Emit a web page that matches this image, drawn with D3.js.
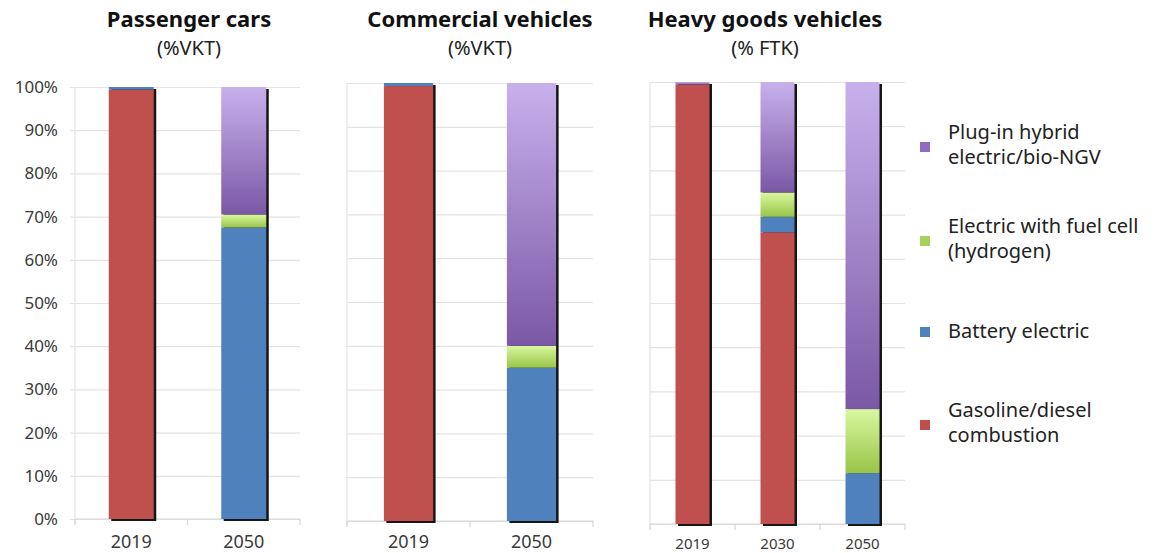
<!DOCTYPE html>
<html>
<head>
<meta charset="utf-8">
<script src="https://cdn.jsdelivr.net/npm/d3@7"></script>
<style>
  body { margin: 0; background: #fff; }
  text { font-family: "Noto Sans", "Open Sans", sans-serif; }
</style>
</head>
<body>
<div id="chart"></div>
<script>
// chart data
const panelTitles = ["Passenger cars", "Commercial vehicles", "Heavy goods vehicles"];
const panelUnits = ["(%VKT)", "(%VKT)", "(% FTK)"];
const panelYears = [["2019", "2050"], ["2019", "2050"], ["2019", "2030", "2050"]];
const seriesNames = ["Gasoline/diesel combustion", "Battery electric", "Electric with fuel cell (hydrogen)", "Plug-in hybrid electric/bio-NGV"];
// shares in % per panel, per year
const gasoline = [[99.4, 0], [99.3, 0], [99.4, 66, 0]];
const battery = [[0.6, 67.5], [0.7, 35], [0, 3.5, 11.5]];
const hydrogen = [[0, 3], [0, 5], [0, 5.5, 14.5]];
const pluginHybrid = [[0, 29.5], [0, 60], [0.6, 25, 74]];
const yTicks = [0, 10, 20, 30, 40, 50, 60, 70, 80, 90, 100];

const svgwidth = 1155;
const svgheight = 553;

var svg = d3.select("#chart")
  .append("svg")
  .attr("width", svgwidth)
  .attr("height", svgheight);

// gradients for the purple and green segments
var defs = svg.append("defs");
function addGradient(id, top, bottom) {
  var g = defs.append("linearGradient").attr("id", id)
    .attr("x1", 0).attr("y1", 0).attr("x2", 0).attr("y2", 1);
  g.append("stop").attr("offset", "0%").attr("stop-color", top);
  g.append("stop").attr("offset", "100%").attr("stop-color", bottom);
}
addGradient("gradPurple", "#c7b1ec", "#7b58a5");
addGradient("gradGreen", "#d9f8a0", "#98c448");

var fills = ["#c0504d", "#4f81bd", "url(#gradGreen)", "url(#gradPurple)"];
var legendFills = ["#c0504d", "#4f81bd", "#a9d05c", "#8e6cc0"];

// plot area of each panel
var geom = [
  {x0: 75, x1: 300, bottom: 519, top: 87, gridLeft: 70, labelSize: 18, pad: 16},
  {x0: 347, x1: 593, bottom: 521, top: 83, gridLeft: 347, labelSize: 18, pad: 14},
  {x0: 650, x1: 905, bottom: 524, top: 82, gridLeft: 650, labelSize: 15, pad: 14}
];
var titleX = [189, 480, 765];

var allSeries = [gasoline, battery, hydrogen, pluginHybrid];

panelTitles.forEach(function(title, p) {
  var gm = geom[p];
  var years = panelYears[p];

  var x = d3.scaleBand()
    .domain(years)
    .range([gm.x0, gm.x1])
    .paddingInner(0.6)
    .paddingOuter(0.3);
  var y = d3.scaleLinear()
    .domain([0, 100])
    .range([gm.bottom, gm.top]);

  var g = svg.append("g");

  // gridlines + y labels
  var yAxis = d3.axisLeft(y)
    .tickValues(yTicks)
    .tickSize(-(gm.x1 - gm.gridLeft))
    .tickFormat(p === 0 ? (d => d + "%") : "");
  var ya = g.append("g")
    .attr("transform", `translate(${gm.gridLeft},0)`)
    .call(yAxis);
  ya.select(".domain").remove();
  ya.selectAll("line").attr("stroke", "#e3e3e3").attr("stroke-width", 1.2);
  ya.selectAll("text")
    .attr("x", -12)
    .attr("fill", "#3a3a3a")
    .style("font-size", "17px");

  // left axis line
  g.append("line")
    .attr("x1", gm.x0).attr("x2", gm.x0)
    .attr("y1", y(100)).attr("y2", y(0) + 5)
    .attr("stroke", "#e3e3e3").attr("stroke-width", 1.2);

  // bottom axis with boundary ticks
  g.append("line")
    .attr("x1", gm.x0).attr("x2", gm.x1)
    .attr("y1", y(0)).attr("y2", y(0))
    .attr("stroke", "#d6d6d6").attr("stroke-width", 1.2);
  var bounds = years.map(d => x(d) - x.step() * 0.3).concat([gm.x1]);
  g.selectAll(".btick").data(bounds).enter().append("line")
    .attr("x1", d => d).attr("x2", d => d)
    .attr("y1", y(0)).attr("y2", y(0) + 6)
    .attr("stroke", "#d6d6d6").attr("stroke-width", 1.2);

  var xa = g.append("g")
    .attr("transform", `translate(0,${y(0)})`)
    .call(d3.axisBottom(x).tickSize(0).tickPadding(gm.pad));
  xa.select(".domain").remove();
  xa.selectAll("text")
    .attr("fill", "#3a3a3a")
    .style("font-size", gm.labelSize + "px");

  // stacked data
  var rows = years.map(function(yr, i) {
    var r = {year: yr};
    seriesNames.forEach(function(s, k) { r[s] = allSeries[k][p][i]; });
    return r;
  });
  var stacked = d3.stack().keys(seriesNames)(rows);

  // shadow behind each bar
  g.selectAll(".shadow").data(rows).enter().append("rect")
    .attr("x", d => x(d.year) + 2.5)
    .attr("y", d => y(d3.sum(seriesNames, s => d[s])) + 2)
    .attr("width", x.bandwidth())
    .attr("height", d => y(0) - y(d3.sum(seriesNames, s => d[s])))
    .attr("fill", "#161616");

  stacked.forEach(function(layer, k) {
    g.selectAll(".seg" + k).data(layer.filter(d => d[1] - d[0] > 0)).enter().append("rect")
      .attr("x", d => x(d.data.year))
      .attr("y", d => y(d[1]))
      .attr("width", x.bandwidth())
      .attr("height", d => y(d[0]) - y(d[1]))
      .attr("fill", fills[k]);
  });

  // titles
  svg.append("text")
    .attr("x", titleX[p]).attr("y", 27)
    .attr("text-anchor", "middle")
    .attr("fill", "#111")
    .style("font-size", "22px")
    .style("font-weight", "bold")
    .text(title);
  svg.append("text")
    .attr("x", titleX[p]).attr("y", 55)
    .attr("text-anchor", "middle")
    .attr("fill", "#222")
    .style("font-size", "20px")
    .text(panelUnits[p]);
});

// legend, top entry is the last series
var legendLines = [
  ["Plug-in hybrid", "electric/bio-NGV"],
  ["Electric with fuel cell", "(hydrogen)"],
  ["Battery electric"],
  ["Gasoline/diesel", "combustion"]
];
var legendY = [147, 241, 332, 425];
var legendColor = [legendFills[3], legendFills[2], legendFills[1], legendFills[0]];
legendLines.forEach(function(lines, i) {
  svg.append("rect")
    .attr("x", 920).attr("y", legendY[i] - 5)
    .attr("width", 10).attr("height", 10)
    .attr("fill", legendColor[i]);
  var t = svg.append("text")
    .attr("x", 948)
    .attr("y", lines.length > 1 ? legendY[i] - 8 : legendY[i] + 6)
    .attr("fill", "#222")
    .style("font-size", "20px");
  lines.forEach(function(l, j) {
    t.append("tspan").attr("x", 948).attr("dy", j === 0 ? 0 : 25).text(l);
  });
});
</script>
</body>
</html>
